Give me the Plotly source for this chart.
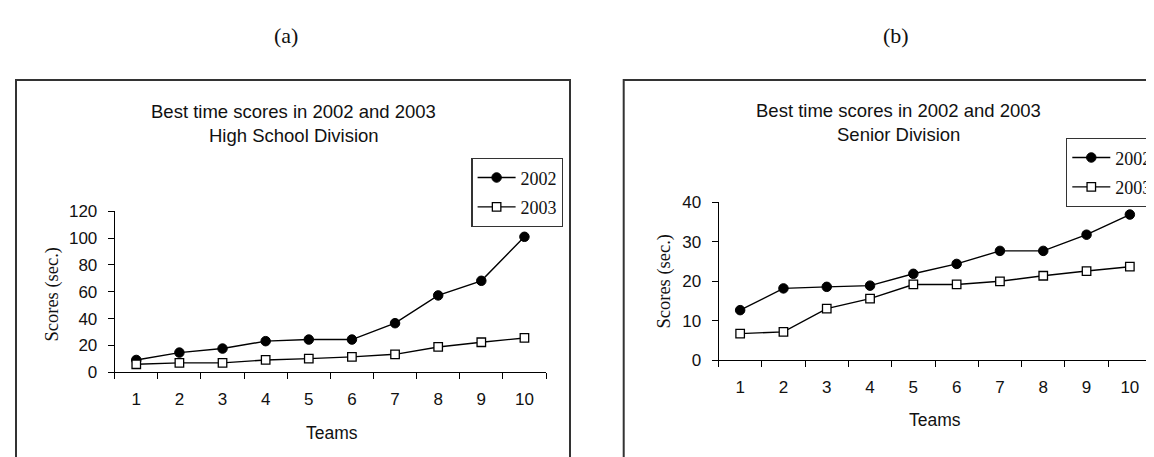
import plotly.graph_objects as go

W, H = 1154, 457

teams = ["1", "2", "3", "4", "5", "6", "7", "8", "9", "10"]
hs_2002 = [9.2, 14.7, 17.7, 23.2, 24.4, 24.4, 36.6, 57.3, 68.2, 101.0]
hs_2003 = [6.0, 7.0, 7.0, 9.2, 10.2, 11.5, 13.4, 18.9, 22.4, 25.6]
sr_2002 = [12.7, 18.2, 18.6, 18.9, 21.9, 24.4, 27.7, 27.7, 31.8, 36.9]
sr_2003 = [6.75, 7.2, 13.1, 15.6, 19.2, 19.2, 20.0, 21.4, 22.6, 23.7]
series_names = ["2002", "2003"]

SANS = "Liberation Sans, Arial, sans-serif"
SERIF = "Liberation Serif, Times New Roman, serif"
INK = "#111111"


def px(x):
    return x / W


def py(y):
    return 1 - y / H


fig = go.Figure()

circle = dict(symbol="circle", size=9.5, color="black", line=dict(color="black", width=1))
square = dict(symbol="square", size=8.5, color="white", line=dict(color="black", width=1.3))
ln = dict(color="black", width=1.4)

fig.add_trace(go.Scatter(x=teams, y=hs_2002, name=series_names[0], mode="lines+markers",
                         line=ln, marker=circle, xaxis="x", yaxis="y", legend="legend",
                         legendgroup="a2002"))
fig.add_trace(go.Scatter(x=teams, y=hs_2003, name=series_names[1], mode="lines+markers",
                         line=ln, marker=square, xaxis="x", yaxis="y", legend="legend",
                         legendgroup="a2003"))
fig.add_trace(go.Scatter(x=teams, y=sr_2002, name=series_names[0], mode="lines+markers",
                         line=ln, marker=circle, xaxis="x2", yaxis="y2", legend="legend2",
                         legendgroup="b2002"))
fig.add_trace(go.Scatter(x=teams, y=sr_2003, name=series_names[1], mode="lines+markers",
                         line=ln, marker=square, xaxis="x2", yaxis="y2", legend="legend2",
                         legendgroup="b2003"))

xcommon = dict(type="category", tickson="boundaries", ticks="outside", ticklen=6,
               tickcolor="black", tickwidth=1, showline=True, linecolor="black", linewidth=1,
               showgrid=False, zeroline=False, range=[-0.5, 9.5], fixedrange=True,
               tickfont=dict(family=SANS, size=17, color=INK), ticklabelstandoff=11)
ycommon = dict(ticks="outside", ticklen=6, tickcolor="black", tickwidth=1, showline=True,
               linecolor="black", linewidth=1, showgrid=False, zeroline=False,
               tickfont=dict(family=SANS, size=17, color=INK), fixedrange=True,
               ticklabelstandoff=7)

legcommon = dict(xanchor="left", yanchor="top", bordercolor="#333333", borderwidth=1.3,
                 bgcolor="white", font=dict(family=SERIF, size=18, color=INK),
                 tracegroupgap=3, traceorder="grouped", itemwidth=38)

fig.update_layout(
    width=W, height=H,
    margin=dict(l=0, r=0, t=0, b=0, autoexpand=False),
    paper_bgcolor="white", plot_bgcolor="white",
    xaxis=dict(domain=[px(106.7), px(538)], anchor="y", **xcommon),
    yaxis=dict(domain=[py(364.3), py(203.3)], anchor="x", range=[0, 120], dtick=20, **ycommon),
    xaxis2=dict(domain=[px(710.5), px(1143.5)], anchor="y2", **xcommon),
    yaxis2=dict(domain=[py(352.3), py(194.3)], anchor="x2", range=[0, 40], dtick=10, **ycommon),
    legend=dict(x=px(463.3), y=py(150), **legcommon),
    legend2=dict(x=px(1058), y=py(130), **legcommon),
    showlegend=True,
)

# panel frames
frame = dict(color="#333333", width=2)
fig.add_shape(type="rect", xref="paper", yref="paper", x0=px(8), x1=px(562), y0=-0.1, y1=py(72),
              line=frame, fillcolor="rgba(0,0,0,0)", layer="below")
fig.add_shape(type="rect", xref="paper", yref="paper", x0=px(615.7), x1=1.1, y0=-0.1, y1=py(72),
              line=frame, fillcolor="rgba(0,0,0,0)", layer="below")


def ann(text, x, y, font, size, angle=0):
    fig.add_annotation(text=text, x=px(x), y=py(y), xref="paper", yref="paper",
                       xanchor="center", yanchor="middle", showarrow=False, textangle=angle,
                       font=dict(family=font, size=size, color=INK))


ann("(a)", 278, 27, SERIF, 22)
ann("(b)", 888, 27, SERIF, 22)

ann("Best time scores in 2002 and 2003", 285.5, 103, SANS, 18.5)
ann("High School Division", 285.5, 127.7, SANS, 18.5)
ann("Best time scores in 2002 and 2003", 890, 102.7, SANS, 18.5)
ann("Senior Division", 890, 126, SANS, 18.5)

ann("Scores (sec.)", 43.5, 286, SERIF, 18.5, -90)
ann("Scores (sec.)", 655.5, 273, SERIF, 18.5, -90)
ann("Teams", 324, 425, SANS, 17.5)
ann("Teams", 927, 412, SANS, 17.5)

fig.write_html("out.html")
